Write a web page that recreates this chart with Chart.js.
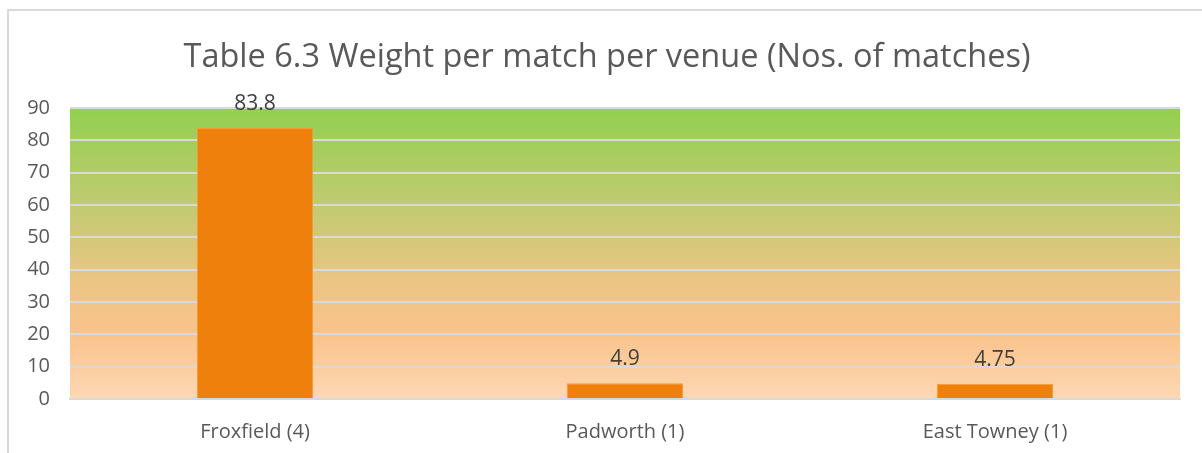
<!DOCTYPE html>
<html>
<head>
<meta charset="utf-8">
<script src="https://cdn.jsdelivr.net/npm/chart.js@4"></script>
<style>
  html, body { margin: 0; padding: 0; background: #fff; }
  #wrap { position: relative; width: 1202px; height: 453px; }
  #title {
    position: absolute; left: 12px; right: 0; top: 35px;
    text-align: center; font: 32.5px 'Open Sans', 'Noto Sans', sans-serif;
    color: #595959; line-height: 40px; white-space: nowrap;
  }
</style>
</head>
<body>
<div id="wrap">
  <canvas id="chart" width="1202" height="453"></canvas>
  <div id="title">Table 6.3 Weight per match per venue (Nos. of matches)</div>
</div>
<script>
// chart data
const venues = ['Froxfield (4)', 'Padworth (1)', 'East Towney (1)'];
const weightPerMatch = [83.8, 4.9, 4.75];
const yTicks = [0, 10, 20, 30, 40, 50, 60, 70, 80, 90];

const FONT = "'Open Sans', 'Noto Sans', sans-serif";
const TEXT = '#595959';
const GRID = '#d9d9d9';

// gradient fill of the plot area (green top -> peach bottom)
const plotBackground = {
  id: 'plotBackground',
  beforeDraw(chart) {
    const { ctx, chartArea: a } = chart;
    ctx.save();
    // outer frame (only left/top visible in the crop)
    ctx.strokeStyle = '#d9d9d9';
    ctx.lineWidth = 2;
    ctx.beginPath();
    ctx.moveTo(8, chart.height);
    ctx.lineTo(8, 10);
    ctx.lineTo(chart.width, 10);
    ctx.stroke();

    const g = ctx.createLinearGradient(0, a.top, 0, a.bottom);
    g.addColorStop(0, '#92d050');
    g.addColorStop(0.3, '#bccb6e');
    g.addColorStop(0.6, '#ecc584');
    g.addColorStop(0.78, '#fac38c');
    g.addColorStop(1, '#fdd8b4');
    ctx.fillStyle = g;
    ctx.fillRect(a.left, a.top, a.right - a.left, a.bottom - a.top);
    ctx.restore();
  }
};

// value labels above bars
const barValues = {
  id: 'barValues',
  afterDatasetsDraw(chart) {
    const { ctx } = chart;
    const meta = chart.getDatasetMeta(0);
    ctx.save();
    ctx.font = `21px ${FONT}`;
    ctx.fillStyle = '#404040';
    ctx.textAlign = 'center';
    ctx.textBaseline = 'middle';
    meta.data.forEach((bar, i) => {
      ctx.fillText(String(weightPerMatch[i]), bar.x, bar.y - 24);
    });
    ctx.restore();
  }
};

new Chart(document.getElementById('chart'), {
  type: 'bar',
  data: {
    labels: venues,
    datasets: [{
      data: weightPerMatch,
      backgroundColor: '#f0800c',
      borderColor: '#f39a3c',
      borderWidth: 1,
      categoryPercentage: 1,
      barPercentage: 0.314,
    }]
  },
  options: {
    responsive: false,
    animation: false,
    layout: { padding: { top: 108, right: 22, left: 0, bottom: 0 } },
    plugins: {
      legend: { display: false },
      tooltip: { enabled: false },
      title: { display: false },
    },
    scales: {
      y: {
        min: 0,
        max: 90,
        afterBuildTicks: s => { s.ticks = yTicks.map(v => ({ value: v })); },
        afterFit: s => { s.width = 70; },
        ticks: { color: TEXT, font: { family: FONT, size: 20 }, padding: 20 },
        grid: { color: GRID, lineWidth: 2, drawTicks: false },
        border: { display: false },
      },
      x: {
        afterFit: s => { s.height = 54; },
        ticks: { color: TEXT, font: { family: FONT, size: 20 }, padding: 13 },
        grid: { display: false },
        border: { color: GRID, width: 2 },
      }
    }
  },
  plugins: [plotBackground, barValues]
});
</script>
</body>
</html>
